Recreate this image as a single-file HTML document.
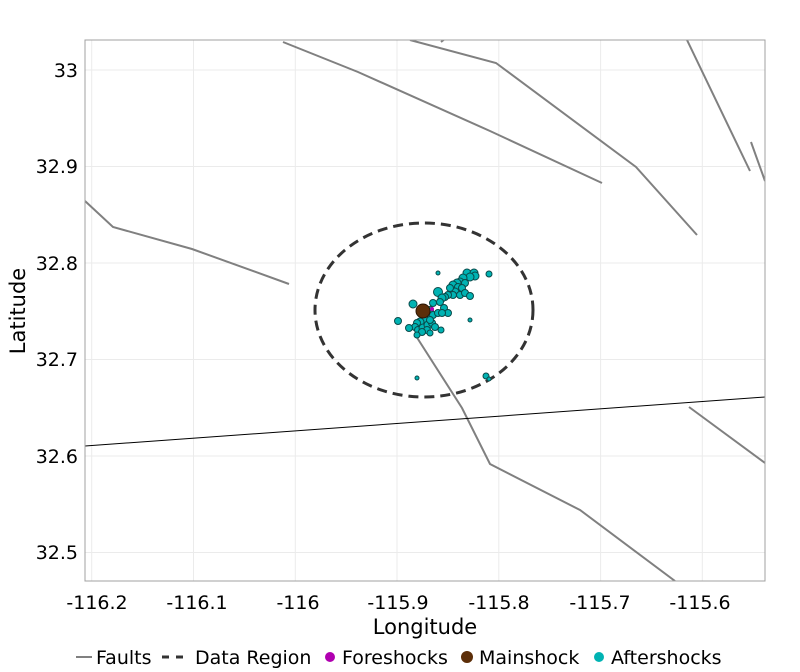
<!DOCTYPE html>
<html><head><meta charset="utf-8"><style>body{margin:0;background:#fff}svg{display:block}</style></head><body>
<svg width="800" height="672" xmlns="http://www.w3.org/2000/svg" font-family="DejaVu Sans, Liberation Sans, sans-serif">
<rect width="800" height="672" fill="#fff"/>
<g stroke="#ebebeb" stroke-width="1">
<line x1="91.7" y1="40" x2="91.7" y2="581"/><line x1="193.5" y1="40" x2="193.5" y2="581"/><line x1="295.3" y1="40" x2="295.3" y2="581"/><line x1="397" y1="40" x2="397" y2="581"/><line x1="498.8" y1="40" x2="498.8" y2="581"/><line x1="600.6" y1="40" x2="600.6" y2="581"/><line x1="702.3" y1="40" x2="702.3" y2="581"/>
<line x1="85" y1="70" x2="765" y2="70"/><line x1="85" y1="166.5" x2="765" y2="166.5"/><line x1="85" y1="263" x2="765" y2="263"/><line x1="85" y1="359.5" x2="765" y2="359.5"/><line x1="85" y1="456" x2="765" y2="456"/><line x1="85" y1="552.5" x2="765" y2="552.5"/>
</g>
<svg x="85" y="40" width="680" height="541" viewBox="85 40 680 541" overflow="hidden">
<g fill="none" stroke="#808080" stroke-width="2">
<polyline points="85,201 113,227 192,249 289,284"/>
<polyline points="283,42 358,72 490,131 602,183"/>
<polyline points="410,40 496,63 636,167 697,235"/>
<polyline points="441,42 446,38"/>
<polyline points="687,40 750,171"/>
<polyline points="751,142 765,181"/>
<polyline points="416,336 462,408 490,464 580,510 675,581"/>
<polyline points="689,407 765,463"/>
</g>
<line x1="85" y1="446" x2="765" y2="397" stroke="#000" stroke-width="1"/>
<ellipse cx="424" cy="310" rx="109" ry="87" fill="none" stroke="#333" stroke-width="3" stroke-dasharray="10,6"/>
<g fill="#00b3b3" stroke="#0a4a4a" stroke-width="1">
<circle cx="438" cy="273" r="2"/><circle cx="489" cy="274" r="3"/>
<circle cx="467" cy="273" r="4"/><circle cx="474" cy="273" r="4"/><circle cx="475" cy="276" r="4"/><circle cx="470" cy="277" r="4"/><circle cx="463" cy="278" r="4"/><circle cx="460" cy="282" r="4"/><circle cx="457" cy="283" r="4"/><circle cx="453" cy="285" r="4"/><circle cx="458" cy="287" r="3.5"/><circle cx="465" cy="283" r="3.5"/><circle cx="462" cy="288" r="3.5"/><circle cx="455" cy="292" r="4"/><circle cx="450" cy="288" r="3.5"/><circle cx="453" cy="295" r="3.5"/><circle cx="460" cy="295" r="3.5"/><circle cx="465" cy="293" r="3.5"/><circle cx="470" cy="296" r="3.5"/><circle cx="448" cy="295" r="3.5"/><circle cx="445" cy="297" r="3.5"/><circle cx="438" cy="292" r="4.5"/><circle cx="442" cy="298" r="4"/><circle cx="440" cy="302" r="3.5"/><circle cx="433" cy="303" r="3.5"/><circle cx="413" cy="304" r="4"/>
<circle cx="430" cy="310" r="3.5"/><circle cx="428" cy="315" r="4"/><circle cx="433" cy="315" r="3.5"/><circle cx="438" cy="313" r="3.5"/><circle cx="444" cy="308" r="3.5"/><circle cx="448" cy="313" r="3.5"/><circle cx="442" cy="313" r="3.5"/><circle cx="425" cy="320" r="4"/><circle cx="420" cy="322" r="4"/><circle cx="417" cy="323" r="3.5"/><circle cx="415" cy="327" r="3.5"/><circle cx="418" cy="330" r="3.5"/><circle cx="423" cy="328" r="4"/><circle cx="428" cy="325" r="4"/><circle cx="432" cy="323" r="3.5"/><circle cx="435" cy="327" r="3.5"/><circle cx="427" cy="330" r="3.5"/><circle cx="422" cy="332" r="3.5"/><circle cx="417" cy="335" r="3"/><circle cx="409" cy="328" r="3.5"/><circle cx="398" cy="321" r="3.5"/><circle cx="441" cy="330" r="3"/><circle cx="470" cy="320" r="2"/><circle cx="430" cy="320" r="3.5"/><circle cx="430" cy="333" r="3"/>
<circle cx="417" cy="378" r="2"/><circle cx="486" cy="376" r="3"/><circle cx="489" cy="379" r="2"/>
</g>
<circle cx="423" cy="311" r="7" fill="#5c2e08" stroke="#2a1504" stroke-width="1"/>
<circle cx="432" cy="309" r="2" fill="#b000b0"/>
</svg>
<rect x="85" y="40" width="680" height="541" fill="none" stroke="#a0a0a0" stroke-width="1"/>
<g font-size="19" fill="#000" text-anchor="middle">
<text x="97" y="609">-116.2</text><text x="197" y="609">-116.1</text><text x="298" y="609">-116</text><text x="398" y="609">-115.9</text><text x="499" y="609">-115.8</text><text x="600" y="609">-115.7</text><text x="700" y="609">-115.6</text>
</g>
<g font-size="19" fill="#000" text-anchor="end">
<text x="78" y="77">33</text><text x="78" y="173">32.9</text><text x="78" y="270">32.8</text><text x="78" y="366">32.7</text><text x="78" y="463">32.6</text><text x="78" y="559">32.5</text>
</g>
<text x="425" y="634" font-size="21" text-anchor="middle">Longitude</text>
<text transform="translate(25,311) rotate(-90)" font-size="21" text-anchor="middle">Latitude</text>
<g font-size="19">
<line x1="76" y1="657" x2="92" y2="657" stroke="#808080" stroke-width="2"/>
<text x="96" y="664">Faults</text>
<line x1="162" y1="657" x2="190" y2="657" stroke="#333" stroke-width="3" stroke-dasharray="7,7"/>
<text x="195" y="664">Data Region</text>
<circle cx="330" cy="657" r="5" fill="#b000b0"/>
<text x="342" y="664">Foreshocks</text>
<circle cx="467" cy="657" r="6" fill="#5c2e08"/>
<text x="479" y="664">Mainshock</text>
<circle cx="599" cy="657" r="5" fill="#00b3b3"/>
<text x="611" y="664">Aftershocks</text>
</g>
</svg>
</body></html>
